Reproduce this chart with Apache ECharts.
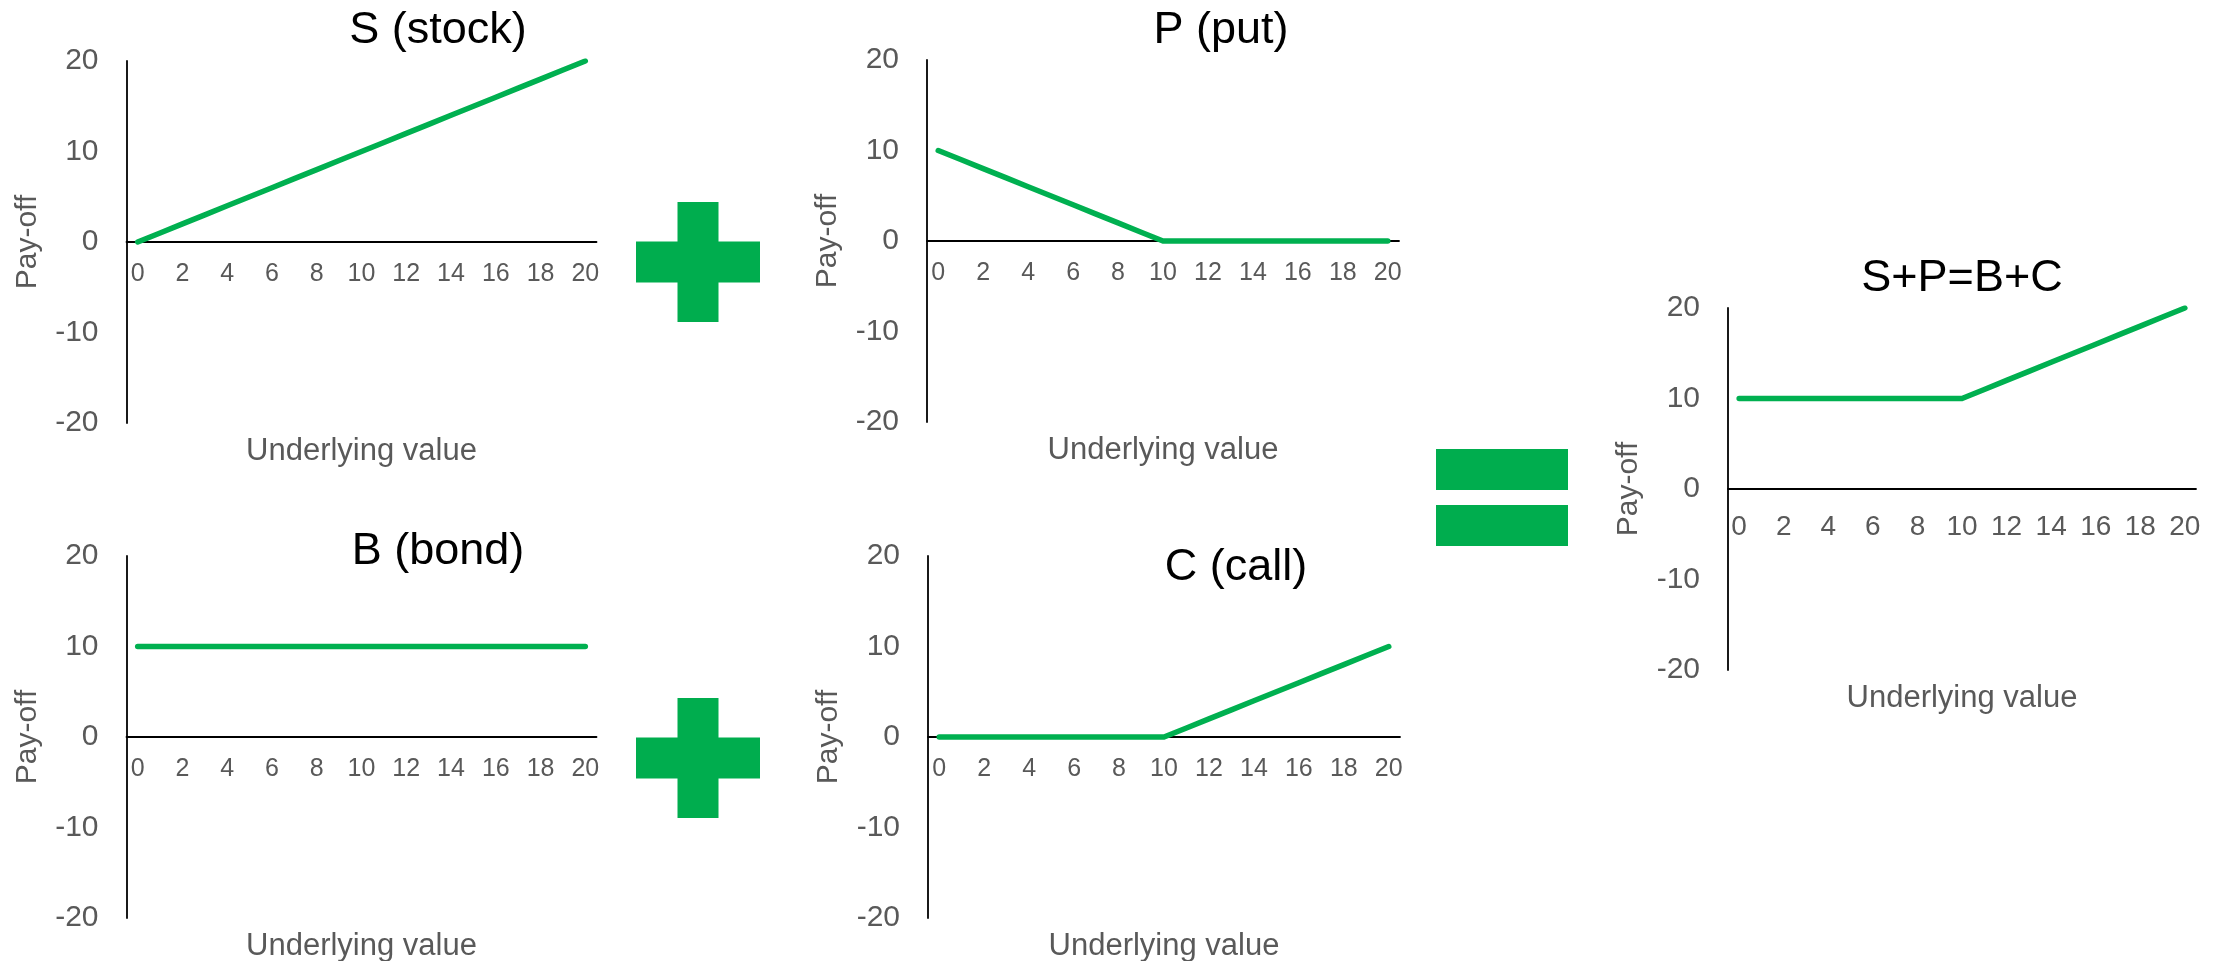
<!DOCTYPE html>
<html>
<head>
<meta charset="utf-8">
<script src="https://cdn.jsdelivr.net/npm/echarts@6/dist/echarts.min.js"></script>
<style>
  html, body { margin: 0; padding: 0; background: #ffffff; }
  #chart { width: 2228px; height: 961px; }
</style>
</head>
<body>
<div id="chart"></div>
<script>
// Underlying asset value at expiry (category axis, labels every 2)
const underlying = ['0','1','2','3','4','5','6','7','8','9','10','11','12','13','14','15','16','17','18','19','20'];

// Pay-offs of each position
const stockPayoff    = [0,1,2,3,4,5,6,7,8,9,10,11,12,13,14,15,16,17,18,19,20];
const putPayoff      = [10,9,8,7,6,5,4,3,2,1,0,0,0,0,0,0,0,0,0,0,0];
const bondPayoff     = [10,10,10,10,10,10,10,10,10,10,10,10,10,10,10,10,10,10,10,10,10];
const callPayoff     = [0,0,0,0,0,0,0,0,0,0,0,1,2,3,4,5,6,7,8,9,10];
const combinedPayoff = [10,10,10,10,10,10,10,10,10,10,10,11,12,13,14,15,16,17,18,19,20];

// Panel titles and axis text
const panelTitles = ['S (stock)', 'P (put)', 'B (bond)', 'C (call)', 'S+P=B+C'];
const xAxisName = 'Underlying value';
const yAxisName = 'Pay-off';
const yMin = -20, yMax = 20, yStep = 10;

const FONT = "'Liberation Sans', Arial, sans-serif";
const GREEN = '#00B050';
const GRAY = '#595959';

// Panel layout: grid rectangle, title anchor and label sizes
const panels = [
  { data: stockPayoff,    left: 126.5, top: 61,  width: 470, height: 362, xTick: 25, xMargin: 20, titleX: 438,  titleY: 31  },
  { data: putPayoff,      left: 927,   top: 60,  width: 472, height: 362, xTick: 25, xMargin: 20, titleX: 1221, titleY: 31  },
  { data: bondPayoff,     left: 126.5, top: 556, width: 470, height: 362, xTick: 25, xMargin: 20, titleX: 438,  titleY: 552 },
  { data: callPayoff,     left: 928,   top: 556, width: 472, height: 362, xTick: 25, xMargin: 20, titleX: 1236, titleY: 568 },
  { data: combinedPayoff, left: 1728,  top: 308, width: 468, height: 362, xTick: 28, xMargin: 24, titleX: 1962, titleY: 279 }
];

const grids = [], xAxes = [], yAxes = [], series = [], graphics = [];

panels.forEach((p, i) => {
  grids.push({
    left: p.left, top: p.top, width: p.width, height: p.height,
    containLabel: false,
    outerBoundsMode: 'none'
  });
  xAxes.push({
    gridIndex: i,
    type: 'category',
    data: underlying,
    boundaryGap: true,
    position: 'bottom',
    // the y range is symmetric, so the zero line sits half-way up the grid
    offset: -p.height / 2,
    name: xAxisName,
    nameLocation: 'middle',
    nameGap: 194,
    nameTextStyle: { color: GRAY, fontSize: 31, fontFamily: FONT },
    axisLine: { show: true, onZero: false, lineStyle: { color: '#000000', width: 1.8 } },
    axisTick: { show: false },
    axisLabel: { interval: 1, color: GRAY, fontSize: p.xTick, fontFamily: FONT, margin: p.xMargin },
    splitLine: { show: false }
  });
  yAxes.push({
    gridIndex: i,
    type: 'value',
    min: yMin,
    max: yMax,
    interval: yStep,
    name: yAxisName,
    nameLocation: 'middle',
    nameRotate: 90,
    nameGap: 84,
    nameTextStyle: { color: GRAY, fontSize: 30, fontFamily: FONT },
    axisLine: { show: true, lineStyle: { color: '#000000', width: 1.8 } },
    axisTick: { show: false },
    axisLabel: { color: GRAY, fontSize: 30, fontFamily: FONT, margin: 28 },
    splitLine: { show: false }
  });
  series.push({
    type: 'line',
    xAxisIndex: i,
    yAxisIndex: i,
    data: p.data,
    symbol: 'none',
    silent: true,
    lineStyle: { color: GREEN, width: 5.5, cap: 'round', join: 'round' }
  });
  graphics.push({
    type: 'text',
    x: p.titleX,
    y: p.titleY,
    style: {
      text: panelTitles[i],
      fill: '#000000',
      font: '45px ' + FONT,
      textAlign: 'center',
      textVerticalAlign: 'middle'
    }
  });
});

// Plus and equals signs between the panels
const SIGN = '#00AD4E';
function plusSign(cx, cy) {
  return [
    { type: 'rect', shape: { x: cx - 20.5, y: cy - 60, width: 41, height: 120 }, style: { fill: SIGN } },
    { type: 'rect', shape: { x: cx - 62, y: cy - 20.5, width: 124, height: 41 }, style: { fill: SIGN } }
  ];
}
graphics.push(...plusSign(698, 262));
graphics.push(...plusSign(698, 758));
graphics.push(
  { type: 'rect', shape: { x: 1436, y: 449, width: 132, height: 41 }, style: { fill: SIGN } },
  { type: 'rect', shape: { x: 1436, y: 505, width: 132, height: 41 }, style: { fill: SIGN } }
);

const chart = echarts.init(document.getElementById('chart'), null, { renderer: 'canvas' });
chart.setOption({
  animation: false,
  backgroundColor: '#ffffff',
  grid: grids,
  xAxis: xAxes,
  yAxis: yAxes,
  series: series,
  graphic: graphics
});
</script>
</body>
</html>
